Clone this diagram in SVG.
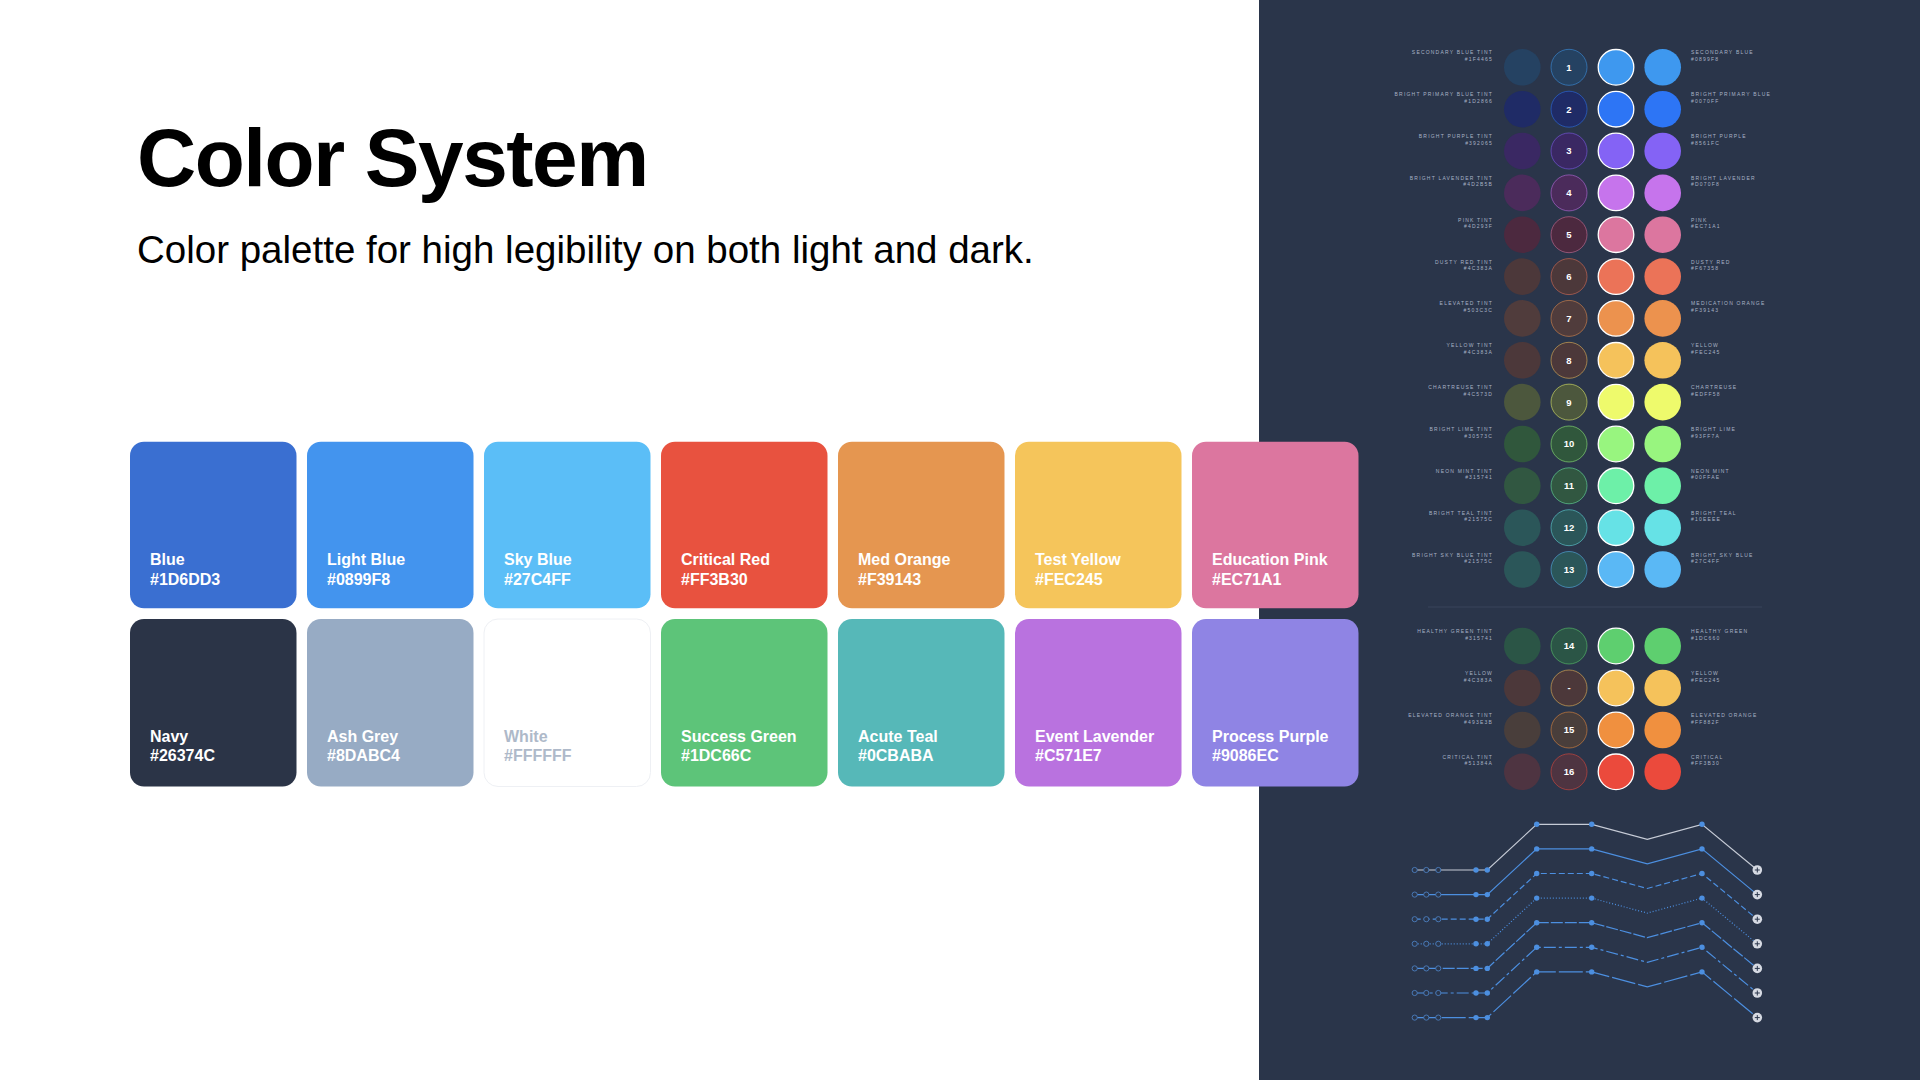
<svg xmlns="http://www.w3.org/2000/svg" width="1920" height="1080" viewBox="0 0 1920 1080">
<defs>
<style>
.title{font-family:"Liberation Sans",Arial,sans-serif;font-weight:700;font-size:82px;letter-spacing:-1.5px;fill:#000}
.sub{font-family:"Liberation Sans",Arial,sans-serif;font-size:38.5px;fill:#000}
.sw text{font-family:"Liberation Sans",Arial,sans-serif;font-weight:700;font-size:16px;fill:#FFFFFF}
.sw text.light{fill:#AEB9C9}
.lbl{font-family:"Liberation Sans",Arial,sans-serif;font-size:5px;letter-spacing:1.2px;fill:#A9B3C6;text-anchor:end}
.lbr{font-family:"Liberation Sans",Arial,sans-serif;font-size:5px;letter-spacing:1.2px;fill:#A9B3C6}
.n{font-family:"Liberation Sans",Arial,sans-serif;font-weight:700;font-size:9.5px;fill:#FFFFFF;text-anchor:middle}
.num{stroke-width:0.9;stroke-opacity:0.6}
.hi{stroke:#FFFFFF;stroke-width:1.3}
.ln{fill:none;stroke:#4C8FE0;stroke-width:1.2}
.ln.g{stroke:#C6CBD6}
.oc{fill:#2A354A;stroke:#4C7FC0;stroke-width:0.9}
.dt{fill:#4C8FE0}
.pl{fill:#D6DAE3}
.px{stroke:#2A354A;stroke-width:1}
</style>
</defs>
<rect x="0" y="0" width="1920" height="1080" fill="#FFFFFF"/>
<rect id="dark-panel" x="1259" y="0" width="661" height="1080" fill="#2A354A"/>

<g id="header">
<text class="title" x="137" y="186">Color System</text>
<text class="sub" x="137" y="263">Color palette for high legibility on both light and dark.</text>
</g>

<g id="swatches" class="sw">
<g id="sw-blue"><rect x="130" y="441.7" width="166.5" height="166.6" rx="14" fill="#3A6FD1"/><text x="150" y="565">Blue</text><text x="150" y="584.5">#1D6DD3</text></g>
<g id="sw-lightblue"><rect x="307" y="441.7" width="166.5" height="166.6" rx="14" fill="#4394EE"/><text x="327" y="565">Light Blue</text><text x="327" y="584.5">#0899F8</text></g>
<g id="sw-skyblue"><rect x="484" y="441.7" width="166.5" height="166.6" rx="14" fill="#5BBEF7"/><text x="504" y="565">Sky Blue</text><text x="504" y="584.5">#27C4FF</text></g>
<g id="sw-red"><rect x="661" y="441.7" width="166.5" height="166.6" rx="14" fill="#E8523F"/><text x="681" y="565">Critical Red</text><text x="681" y="584.5">#FF3B30</text></g>
<g id="sw-orange"><rect x="838" y="441.7" width="166.5" height="166.6" rx="14" fill="#E59650"/><text x="858" y="565">Med Orange</text><text x="858" y="584.5">#F39143</text></g>
<g id="sw-yellow"><rect x="1015" y="441.7" width="166.5" height="166.6" rx="14" fill="#F5C55B"/><text x="1035" y="565">Test Yellow</text><text x="1035" y="584.5">#FEC245</text></g>
<g id="sw-pink"><rect x="1192" y="441.7" width="166.5" height="166.6" rx="14" fill="#DC769F"/><text x="1212" y="565">Education Pink</text><text x="1212" y="584.5">#EC71A1</text></g>

<g id="sw-navy"><rect x="130" y="619" width="166.5" height="167.5" rx="14" fill="#2B3447"/><text x="150" y="741.5">Navy</text><text x="150" y="761">#26374C</text></g>
<g id="sw-ash"><rect x="307" y="619" width="166.5" height="167.5" rx="14" fill="#97ABC4"/><text x="327" y="741.5">Ash Grey</text><text x="327" y="761">#8DABC4</text></g>
<g id="sw-white"><rect x="484" y="619" width="166.5" height="167.5" rx="14" fill="#FFFFFF" stroke="#EEF0F4" stroke-width="1"/><text class="light" x="504" y="741.5">White</text><text class="light" x="504" y="761">#FFFFFF</text></g>
<g id="sw-green"><rect x="661" y="619" width="166.5" height="167.5" rx="14" fill="#5DC479"/><text x="681" y="741.5">Success Green</text><text x="681" y="761">#1DC66C</text></g>
<g id="sw-teal"><rect x="838" y="619" width="166.5" height="167.5" rx="14" fill="#56B8B8"/><text x="858" y="741.5">Acute Teal</text><text x="858" y="761">#0CBABA</text></g>
<g id="sw-lavender"><rect x="1015" y="619" width="166.5" height="167.5" rx="14" fill="#B972DF"/><text x="1035" y="741.5">Event Lavender</text><text x="1035" y="761">#C571E7</text></g>
<g id="sw-purple"><rect x="1192" y="619" width="166.5" height="167.5" rx="14" fill="#8F84E4"/><text x="1212" y="741.5">Process Purple</text><text x="1212" y="761">#9086EC</text></g>
</g>

<g id="palette">
<g id="row-1" transform="translate(0,67.3)">
<text class="lbl" x="1493" y="-13">SECONDARY BLUE TINT</text><text class="lbl" x="1493" y="-6.5">#1F4465</text>
<circle cx="1522.3" cy="0" r="18.3" fill="#254262"/>
<circle class="num" cx="1569" cy="0" r="18" fill="#254262" stroke="#3E98EF"/><text class="n" x="1569" y="3.4">1</text>
<circle class="hi" cx="1616" cy="0" r="17.8" fill="#3E98EF"/>
<circle cx="1662.7" cy="0" r="18.3" fill="#3E98EF"/>
<text class="lbr" x="1691" y="-13">SECONDARY BLUE</text><text class="lbr" x="1691" y="-6.5">#0899F8</text>
</g>
<g id="row-2" transform="translate(0,109.2)">
<text class="lbl" x="1493" y="-13">BRIGHT PRIMARY BLUE TINT</text><text class="lbl" x="1493" y="-6.5">#1D2866</text>
<circle cx="1522.3" cy="0" r="18.3" fill="#1F2B66"/>
<circle class="num" cx="1569" cy="0" r="18" fill="#1F2B66" stroke="#2D75F5"/><text class="n" x="1569" y="3.4">2</text>
<circle class="hi" cx="1616" cy="0" r="17.8" fill="#2D75F5"/>
<circle cx="1662.7" cy="0" r="18.3" fill="#2D75F5"/>
<text class="lbr" x="1691" y="-13">BRIGHT PRIMARY BLUE</text><text class="lbr" x="1691" y="-6.5">#0070FF</text>
</g>
<g id="row-3" transform="translate(0,151)">
<text class="lbl" x="1493" y="-13">BRIGHT PURPLE TINT</text><text class="lbl" x="1493" y="-6.5">#392065</text>
<circle cx="1522.3" cy="0" r="18.3" fill="#3A2863"/>
<circle class="num" cx="1569" cy="0" r="18" fill="#3A2863" stroke="#8463F5"/><text class="n" x="1569" y="3.4">3</text>
<circle class="hi" cx="1616" cy="0" r="17.8" fill="#8463F5"/>
<circle cx="1662.7" cy="0" r="18.3" fill="#8463F5"/>
<text class="lbr" x="1691" y="-13">BRIGHT PURPLE</text><text class="lbr" x="1691" y="-6.5">#8561FC</text>
</g>
<g id="row-4" transform="translate(0,192.9)">
<text class="lbl" x="1493" y="-13">BRIGHT LAVENDER TINT</text><text class="lbl" x="1493" y="-6.5">#4D2B5B</text>
<circle cx="1522.3" cy="0" r="18.3" fill="#4B2B5B"/>
<circle class="num" cx="1569" cy="0" r="18" fill="#4B2B5B" stroke="#C674EC"/><text class="n" x="1569" y="3.4">4</text>
<circle class="hi" cx="1616" cy="0" r="17.8" fill="#C674EC"/>
<circle cx="1662.7" cy="0" r="18.3" fill="#C674EC"/>
<text class="lbr" x="1691" y="-13">BRIGHT LAVENDER</text><text class="lbr" x="1691" y="-6.5">#D070F8</text>
</g>
<g id="row-5" transform="translate(0,234.7)">
<text class="lbl" x="1493" y="-13">PINK TINT</text><text class="lbl" x="1493" y="-6.5">#4D293F</text>
<circle cx="1522.3" cy="0" r="18.3" fill="#4C293F"/>
<circle class="num" cx="1569" cy="0" r="18" fill="#4C293F" stroke="#DC769F"/><text class="n" x="1569" y="3.4">5</text>
<circle class="hi" cx="1616" cy="0" r="17.8" fill="#DC769F"/>
<circle cx="1662.7" cy="0" r="18.3" fill="#DC769F"/>
<text class="lbr" x="1691" y="-13">PINK</text><text class="lbr" x="1691" y="-6.5">#EC71A1</text>
</g>
<g id="row-6" transform="translate(0,276.6)">
<text class="lbl" x="1493" y="-13">DUSTY RED TINT</text><text class="lbl" x="1493" y="-6.5">#4C383A</text>
<circle cx="1522.3" cy="0" r="18.3" fill="#4C383A"/>
<circle class="num" cx="1569" cy="0" r="18" fill="#4C383A" stroke="#EB7358"/><text class="n" x="1569" y="3.4">6</text>
<circle class="hi" cx="1616" cy="0" r="17.8" fill="#EB7358"/>
<circle cx="1662.7" cy="0" r="18.3" fill="#EB7358"/>
<text class="lbr" x="1691" y="-13">DUSTY RED</text><text class="lbr" x="1691" y="-6.5">#F67358</text>
</g>
<g id="row-7" transform="translate(0,318.4)">
<text class="lbl" x="1493" y="-13">ELEVATED TINT</text><text class="lbl" x="1493" y="-6.5">#503C3C</text>
<circle cx="1522.3" cy="0" r="18.3" fill="#503C3C"/>
<circle class="num" cx="1569" cy="0" r="18" fill="#503C3C" stroke="#EC924E"/><text class="n" x="1569" y="3.4">7</text>
<circle class="hi" cx="1616" cy="0" r="17.8" fill="#EC924E"/>
<circle cx="1662.7" cy="0" r="18.3" fill="#EC924E"/>
<text class="lbr" x="1691" y="-13">MEDICATION ORANGE</text><text class="lbr" x="1691" y="-6.5">#F39143</text>
</g>
<g id="row-8" transform="translate(0,360.3)">
<text class="lbl" x="1493" y="-13">YELLOW TINT</text><text class="lbl" x="1493" y="-6.5">#4C383A</text>
<circle cx="1522.3" cy="0" r="18.3" fill="#4C383A"/>
<circle class="num" cx="1569" cy="0" r="18" fill="#4C383A" stroke="#F5C25B"/><text class="n" x="1569" y="3.4">8</text>
<circle class="hi" cx="1616" cy="0" r="17.8" fill="#F5C25B"/>
<circle cx="1662.7" cy="0" r="18.3" fill="#F5C25B"/>
<text class="lbr" x="1691" y="-13">YELLOW</text><text class="lbr" x="1691" y="-6.5">#FEC245</text>
</g>
<g id="row-9" transform="translate(0,402.1)">
<text class="lbl" x="1493" y="-13">CHARTREUSE TINT</text><text class="lbl" x="1493" y="-6.5">#4C573D</text>
<circle cx="1522.3" cy="0" r="18.3" fill="#4C573D"/>
<circle class="num" cx="1569" cy="0" r="18" fill="#4C573D" stroke="#EEFA6C"/><text class="n" x="1569" y="3.4">9</text>
<circle class="hi" cx="1616" cy="0" r="17.8" fill="#EEFA6C"/>
<circle cx="1662.7" cy="0" r="18.3" fill="#EEFA6C"/>
<text class="lbr" x="1691" y="-13">CHARTREUSE</text><text class="lbr" x="1691" y="-6.5">#EDFF58</text>
</g>
<g id="row-10" transform="translate(0,444)">
<text class="lbl" x="1493" y="-13">BRIGHT LIME TINT</text><text class="lbl" x="1493" y="-6.5">#30573C</text>
<circle cx="1522.3" cy="0" r="18.3" fill="#30573C"/>
<circle class="num" cx="1569" cy="0" r="18" fill="#30573C" stroke="#98F57F"/><text class="n" x="1569" y="3.4">10</text>
<circle class="hi" cx="1616" cy="0" r="17.8" fill="#98F57F"/>
<circle cx="1662.7" cy="0" r="18.3" fill="#98F57F"/>
<text class="lbr" x="1691" y="-13">BRIGHT LIME</text><text class="lbr" x="1691" y="-6.5">#93FF7A</text>
</g>
<g id="row-11" transform="translate(0,485.8)">
<text class="lbl" x="1493" y="-13">NEON MINT TINT</text><text class="lbl" x="1493" y="-6.5">#315741</text>
<circle cx="1522.3" cy="0" r="18.3" fill="#315741"/>
<circle class="num" cx="1569" cy="0" r="18" fill="#315741" stroke="#6DF0A8"/><text class="n" x="1569" y="3.4">11</text>
<circle class="hi" cx="1616" cy="0" r="17.8" fill="#6DF0A8"/>
<circle cx="1662.7" cy="0" r="18.3" fill="#6DF0A8"/>
<text class="lbr" x="1691" y="-13">NEON MINT</text><text class="lbr" x="1691" y="-6.5">#00FFAE</text>
</g>
<g id="row-12" transform="translate(0,527.7)">
<text class="lbl" x="1493" y="-13">BRIGHT TEAL TINT</text><text class="lbl" x="1493" y="-6.5">#21575C</text>
<circle cx="1522.3" cy="0" r="18.3" fill="#2B5659"/>
<circle class="num" cx="1569" cy="0" r="18" fill="#2B5659" stroke="#66E2E6"/><text class="n" x="1569" y="3.4">12</text>
<circle class="hi" cx="1616" cy="0" r="17.8" fill="#66E2E6"/>
<circle cx="1662.7" cy="0" r="18.3" fill="#66E2E6"/>
<text class="lbr" x="1691" y="-13">BRIGHT TEAL</text><text class="lbr" x="1691" y="-6.5">#10EEEE</text>
</g>
<g id="row-13" transform="translate(0,569.5)">
<text class="lbl" x="1493" y="-13">BRIGHT SKY BLUE TINT</text><text class="lbl" x="1493" y="-6.5">#21575C</text>
<circle cx="1522.3" cy="0" r="18.3" fill="#2B5659"/>
<circle class="num" cx="1569" cy="0" r="18" fill="#2B5659" stroke="#5AB8F5"/><text class="n" x="1569" y="3.4">13</text>
<circle class="hi" cx="1616" cy="0" r="17.8" fill="#5AB8F5"/>
<circle cx="1662.7" cy="0" r="18.3" fill="#5AB8F5"/>
<text class="lbr" x="1691" y="-13">BRIGHT SKY BLUE</text><text class="lbr" x="1691" y="-6.5">#27C4FF</text>
</g>

<line id="separator" x1="1428" y1="607" x2="1762" y2="607" stroke="#38445A" stroke-width="1"/>

<g id="row-14" transform="translate(0,646)">
<text class="lbl" x="1493" y="-13">HEALTHY GREEN TINT</text><text class="lbl" x="1493" y="-6.5">#315741</text>
<circle cx="1522.3" cy="0" r="18.3" fill="#2B5546"/>
<circle class="num" cx="1569" cy="0" r="18" fill="#2B5546" stroke="#5ECF6F"/><text class="n" x="1569" y="3.4">14</text>
<circle class="hi" cx="1616" cy="0" r="17.8" fill="#5ECF6F"/>
<circle cx="1662.7" cy="0" r="18.3" fill="#5ECF6F"/>
<text class="lbr" x="1691" y="-13">HEALTHY GREEN</text><text class="lbr" x="1691" y="-6.5">#1DC660</text>
</g>
<g id="row-dash" transform="translate(0,688)">
<text class="lbl" x="1493" y="-13">YELLOW</text><text class="lbl" x="1493" y="-6.5">#4C383A</text>
<circle cx="1522.3" cy="0" r="18.3" fill="#4C383A"/>
<circle class="num" cx="1569" cy="0" r="18" fill="#4C383A" stroke="#F5C25B"/><text class="n" x="1569" y="3.4">-</text>
<circle class="hi" cx="1616" cy="0" r="17.8" fill="#F5C25B"/>
<circle cx="1662.7" cy="0" r="18.3" fill="#F5C25B"/>
<text class="lbr" x="1691" y="-13">YELLOW</text><text class="lbr" x="1691" y="-6.5">#FEC245</text>
</g>
<g id="row-15" transform="translate(0,730)">
<text class="lbl" x="1493" y="-13">ELEVATED ORANGE TINT</text><text class="lbl" x="1493" y="-6.5">#493E3B</text>
<circle cx="1522.3" cy="0" r="18.3" fill="#493E3B"/>
<circle class="num" cx="1569" cy="0" r="18" fill="#493E3B" stroke="#F0903F"/><text class="n" x="1569" y="3.4">15</text>
<circle class="hi" cx="1616" cy="0" r="17.8" fill="#F0903F"/>
<circle cx="1662.7" cy="0" r="18.3" fill="#F0903F"/>
<text class="lbr" x="1691" y="-13">ELEVATED ORANGE</text><text class="lbr" x="1691" y="-6.5">#FF882F</text>
</g>
<g id="row-16" transform="translate(0,771.8)">
<text class="lbl" x="1493" y="-13">CRITICAL TINT</text><text class="lbl" x="1493" y="-6.5">#51384A</text>
<circle cx="1522.3" cy="0" r="18.3" fill="#4E3441"/>
<circle class="num" cx="1569" cy="0" r="18" fill="#4E3441" stroke="#EB4A3C"/><text class="n" x="1569" y="3.4">16</text>
<circle class="hi" cx="1616" cy="0" r="17.8" fill="#EB4A3C"/>
<circle cx="1662.7" cy="0" r="18.3" fill="#EB4A3C"/>
<text class="lbr" x="1691" y="-13">CRITICAL</text><text class="lbr" x="1691" y="-6.5">#FF3B30</text>
</g>
</g>

<g id="connectors">
<g transform="translate(0,0)">
<polyline class="ln g" points="1414.7,870 1487.3,870 1536.7,824.3 1591.7,824.3 1647.3,839.3 1702,824.3 1757.3,870"/>
<circle class="oc" cx="1414.7" cy="870" r="2.6"/><circle class="oc" cx="1426.3" cy="870" r="2.6"/><circle class="oc" cx="1438.3" cy="870" r="2.6"/>
<circle class="dt" cx="1476" cy="870" r="2.7"/><circle class="dt" cx="1487.3" cy="870" r="2.7"/>
<circle class="dt" cx="1536.7" cy="824.3" r="2.7"/><circle class="dt" cx="1591.7" cy="824.3" r="2.7"/><circle class="dt" cx="1702" cy="824.3" r="2.7"/>
<circle class="pl" cx="1757.3" cy="870" r="4.8"/><path class="px" d="M1754.8,870h5M1757.3,867.5v5"/>
</g>
<g transform="translate(0,24.6)">
<polyline class="ln" points="1414.7,870 1487.3,870 1536.7,824.3 1591.7,824.3 1647.3,839.3 1702,824.3 1757.3,870"/>
<circle class="oc" cx="1414.7" cy="870" r="2.6"/><circle class="oc" cx="1426.3" cy="870" r="2.6"/><circle class="oc" cx="1438.3" cy="870" r="2.6"/>
<circle class="dt" cx="1476" cy="870" r="2.7"/><circle class="dt" cx="1487.3" cy="870" r="2.7"/>
<circle class="dt" cx="1536.7" cy="824.3" r="2.7"/><circle class="dt" cx="1591.7" cy="824.3" r="2.7"/><circle class="dt" cx="1702" cy="824.3" r="2.7"/>
<circle class="pl" cx="1757.3" cy="870" r="4.8"/><path class="px" d="M1754.8,870h5M1757.3,867.5v5"/>
</g>
<g transform="translate(0,49.2)">
<polyline class="ln" stroke-dasharray="6 3" points="1414.7,870 1487.3,870 1536.7,824.3 1591.7,824.3 1647.3,839.3 1702,824.3 1757.3,870"/>
<circle class="oc" cx="1414.7" cy="870" r="2.6"/><circle class="oc" cx="1426.3" cy="870" r="2.6"/><circle class="oc" cx="1438.3" cy="870" r="2.6"/>
<circle class="dt" cx="1476" cy="870" r="2.7"/><circle class="dt" cx="1487.3" cy="870" r="2.7"/>
<circle class="dt" cx="1536.7" cy="824.3" r="2.7"/><circle class="dt" cx="1591.7" cy="824.3" r="2.7"/><circle class="dt" cx="1702" cy="824.3" r="2.7"/>
<circle class="pl" cx="1757.3" cy="870" r="4.8"/><path class="px" d="M1754.8,870h5M1757.3,867.5v5"/>
</g>
<g transform="translate(0,73.8)">
<polyline class="ln" stroke-width="0.9" stroke-dasharray="1 2" points="1414.7,870 1487.3,870 1536.7,824.3 1591.7,824.3 1647.3,839.3 1702,824.3 1757.3,870"/>
<circle class="oc" cx="1414.7" cy="870" r="2.6"/><circle class="oc" cx="1426.3" cy="870" r="2.6"/><circle class="oc" cx="1438.3" cy="870" r="2.6"/>
<circle class="dt" cx="1476" cy="870" r="2.7"/><circle class="dt" cx="1487.3" cy="870" r="2.7"/>
<circle class="dt" cx="1536.7" cy="824.3" r="2.7"/><circle class="dt" cx="1591.7" cy="824.3" r="2.7"/><circle class="dt" cx="1702" cy="824.3" r="2.7"/>
<circle class="pl" cx="1757.3" cy="870" r="4.8"/><path class="px" d="M1754.8,870h5M1757.3,867.5v5"/>
</g>
<g transform="translate(0,98.4)">
<polyline class="ln" stroke-dasharray="12 2" points="1414.7,870 1487.3,870 1536.7,824.3 1591.7,824.3 1647.3,839.3 1702,824.3 1757.3,870"/>
<circle class="oc" cx="1414.7" cy="870" r="2.6"/><circle class="oc" cx="1426.3" cy="870" r="2.6"/><circle class="oc" cx="1438.3" cy="870" r="2.6"/>
<circle class="dt" cx="1476" cy="870" r="2.7"/><circle class="dt" cx="1487.3" cy="870" r="2.7"/>
<circle class="dt" cx="1536.7" cy="824.3" r="2.7"/><circle class="dt" cx="1591.7" cy="824.3" r="2.7"/><circle class="dt" cx="1702" cy="824.3" r="2.7"/>
<circle class="pl" cx="1757.3" cy="870" r="4.8"/><path class="px" d="M1754.8,870h5M1757.3,867.5v5"/>
</g>
<g transform="translate(0,123)">
<polyline class="ln" stroke-dasharray="12 3 3 3" points="1414.7,870 1487.3,870 1536.7,824.3 1591.7,824.3 1647.3,839.3 1702,824.3 1757.3,870"/>
<circle class="oc" cx="1414.7" cy="870" r="2.6"/><circle class="oc" cx="1426.3" cy="870" r="2.6"/><circle class="oc" cx="1438.3" cy="870" r="2.6"/>
<circle class="dt" cx="1476" cy="870" r="2.7"/><circle class="dt" cx="1487.3" cy="870" r="2.7"/>
<circle class="dt" cx="1536.7" cy="824.3" r="2.7"/><circle class="dt" cx="1591.7" cy="824.3" r="2.7"/><circle class="dt" cx="1702" cy="824.3" r="2.7"/>
<circle class="pl" cx="1757.3" cy="870" r="4.8"/><path class="px" d="M1754.8,870h5M1757.3,867.5v5"/>
</g>
<g transform="translate(0,147.6)">
<polyline class="ln" stroke-dasharray="24 3" points="1414.7,870 1487.3,870 1536.7,824.3 1591.7,824.3 1647.3,839.3 1702,824.3 1757.3,870"/>
<circle class="oc" cx="1414.7" cy="870" r="2.6"/><circle class="oc" cx="1426.3" cy="870" r="2.6"/><circle class="oc" cx="1438.3" cy="870" r="2.6"/>
<circle class="dt" cx="1476" cy="870" r="2.7"/><circle class="dt" cx="1487.3" cy="870" r="2.7"/>
<circle class="dt" cx="1536.7" cy="824.3" r="2.7"/><circle class="dt" cx="1591.7" cy="824.3" r="2.7"/><circle class="dt" cx="1702" cy="824.3" r="2.7"/>
<circle class="pl" cx="1757.3" cy="870" r="4.8"/><path class="px" d="M1754.8,870h5M1757.3,867.5v5"/>
</g>
</g>
</svg>
